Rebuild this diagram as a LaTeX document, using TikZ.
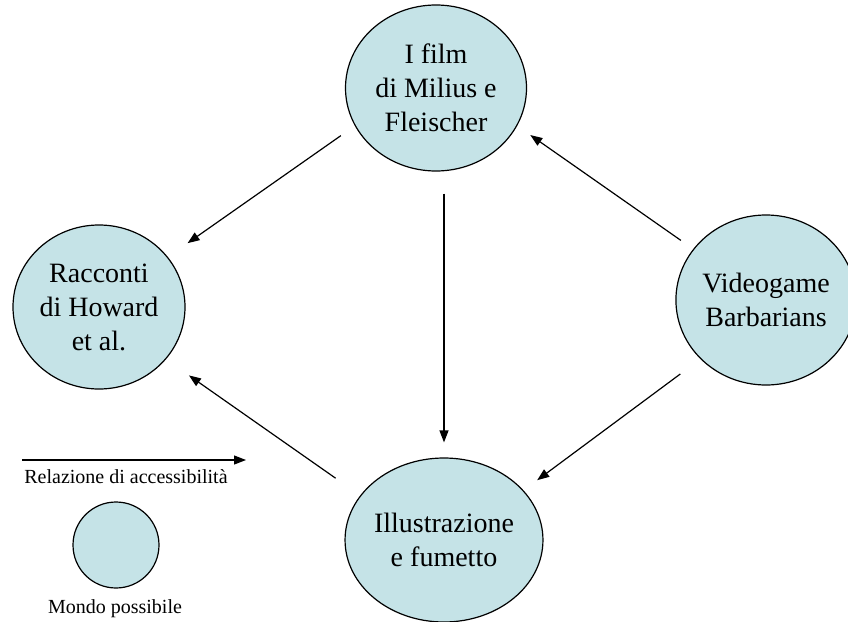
\documentclass[tikz,border=0pt]{standalone}
\usepackage{fontspec}
\setmainfont{Liberation Serif}
\usetikzlibrary{shapes.geometric,arrows.meta}
\definecolor{worldfill}{RGB}{197,227,231}
\tikzset{
  world/.style={ellipse, draw=black, line width=1.2pt, fill=worldfill, inner sep=0pt,
    align=center, font=\fontsize{28}{34}\selectfont},
  arr/.style={line width=1.2pt, -{Triangle[length=12pt,width=9pt]}},
  legendtext/.style={font=\fontsize{20}{24}\selectfont, inner sep=0pt}
}
\begin{document}
\begin{tikzpicture}[x=1pt,y=-1pt]
\useasboundingbox (0,0) rectangle (848,621);
\node[world, minimum width=181pt, minimum height=166pt] (top) at (436,88) {I film\\di Milius e\\Fleischer};
\node[world, minimum width=172pt, minimum height=164pt] (left) at (99,307) {Racconti\\di Howard\\et al.};
\node[world, minimum width=164pt, minimum height=170pt] (right) at (766,300) {Videogame\\Barbarians};
\node[world, minimum width=174pt, minimum height=164pt] (bottom) at (444,540) {Illustrazione\\e fumetto};

\draw[arr, shorten <=17pt, shorten >=24pt] (top.205) -- (left.36);
\draw[arr, shorten <=22pt, shorten >=15pt] (top.south -| bottom.north) -- (bottom.north);
\draw[arr, shorten <=15pt, shorten >=16pt] (right.145) -- (top.-25.6);
\draw[arr, shorten <=25pt, shorten >=17pt] (right.222) -- (bottom.32.6);
\draw[arr, shorten <=30pt, shorten >=28pt] (bottom.152.3) -- (left.-38.5);

% legend
\coordinate (la1) at (22,460);
\coordinate (la2) at (246,460);
\draw[arr] (la1) -- (la2);
\node[legendtext] (rel) at (126,477) {Relazione di accessibilità};
\node[world, minimum width=86pt, minimum height=86pt] (mw) at (116,545) {};
\node[legendtext] (mp) at (115,609) {Mondo possibile};
\end{tikzpicture}
\end{document}
